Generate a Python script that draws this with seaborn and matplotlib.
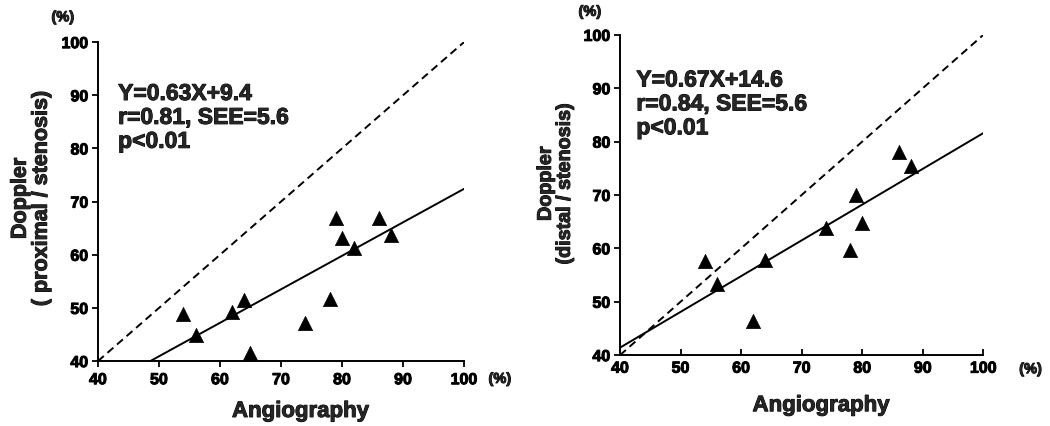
import matplotlib
matplotlib.use("Agg")
import matplotlib.pyplot as plt
import matplotlib.patheffects as pe
import numpy as np
import pandas as pd
import seaborn as sns

sns.set_theme(style="ticks")
plt.rcParams["font.family"] = ["Liberation Sans", "DejaVu Sans"]
plt.rcParams["font.weight"] = "bold"

# Angiography vs Doppler (proximal / stenosis)
prox_angio = [54, 56, 62, 64, 65, 74, 78, 79, 80, 82, 86, 88]
prox_doppler = [48.9, 44.9, 49.2, 51.4, 41.5, 47.1, 51.7, 66.9, 63.1, 61.3, 67.0, 63.8]
prox_slope, prox_icpt = 0.63, 9.4
prox_text = ["Y=0.63X+9.4", "r=0.81, SEE=5.6", "p<0.01"]

# Angiography vs Doppler (distal / stenosis)
dist_angio = [54, 56, 62, 64, 74, 78, 79, 80, 86, 88]
dist_doppler = [57.6, 53.4, 46.3, 57.9, 63.8, 59.7, 70.0, 64.8, 78.1, 75.4]
dist_slope, dist_icpt = 0.67, 14.6
dist_text = ["Y=0.67X+14.6", "r=0.84, SEE=5.6", "p<0.01"]

ticks = [40, 50, 60, 70, 80, 90, 100]

# slight stroke to give the heavy, printed look of the lettering
heavy = [pe.withStroke(linewidth=0.7, foreground="black")]

fig = plt.figure(figsize=(10.5, 4.27), dpi=100)
ax1 = fig.add_axes([0.0933, 0.152, 0.3486, 0.747])
ax2 = fig.add_axes([0.5905, 0.166, 0.3460, 0.750])


def draw_panel(ax, angio, doppler, slope, icpt, text, ylab, ylab_size,
               ylab_y, x_tick_dir, text_pos):
    df = pd.DataFrame({"Angiography": angio, "Doppler": doppler})
    xs = np.array([40.0, 100.0])
    fit = pd.DataFrame({"x": xs, "y": slope * xs + icpt})
    ident = pd.DataFrame({"x": xs, "y": xs})
    sns.lineplot(data=ident, x="x", y="y", ax=ax, color="black",
                 linewidth=1.4, linestyle=(0, (4, 2.5)))
    sns.lineplot(data=fit, x="x", y="y", ax=ax, color="black", linewidth=1.4)
    sns.scatterplot(data=df, x="Angiography", y="Doppler", ax=ax, marker="^",
                    s=105, color="black", edgecolor="black", linewidth=0.5,
                    zorder=5)
    ax.set_xlim(40, 100)
    ax.set_ylim(40, 100)
    ax.set_xticks(ticks)
    ax.set_yticks(ticks)
    ax.set_xticklabels([str(t) for t in ticks], fontsize=11.5,
                       fontweight="bold", path_effects=heavy)
    ax.set_yticklabels([str(t) for t in ticks], fontsize=11.5,
                       fontweight="bold", path_effects=heavy)
    ax.tick_params(axis="x", direction=x_tick_dir, length=4, width=1.3,
                   pad=4, colors="black")
    ax.tick_params(axis="y", direction="out", length=4, width=1.3,
                   pad=3, colors="black")
    for side in ("top", "right"):
        ax.spines[side].set_visible(False)
    for side in ("left", "bottom"):
        ax.spines[side].set_linewidth(1.4)
        ax.spines[side].set_color("black")
    ax.set_xlabel("Angiography", fontsize=16, fontweight="bold", labelpad=10,
                  path_effects=heavy)
    ax.xaxis.set_label_coords(0.553, -0.125)
    ax.set_ylabel(ylab, fontsize=ylab_size, fontweight="bold", labelpad=7,
                  linespacing=1.0, path_effects=heavy)
    ax.yaxis.label.set_y(ylab_y)
    ax.text(text_pos[0], text_pos[1], "\n".join(text), transform=ax.transAxes,
            fontsize=16.5, fontweight="bold", va="top", ha="left",
            linespacing=1.05, path_effects=heavy)


draw_panel(ax1, prox_angio, prox_doppler, prox_slope, prox_icpt, prox_text,
           "Doppler\n( proximal / stenosis)", 15.5, 0.51, "out", (0.055, 0.875))
draw_panel(ax2, dist_angio, dist_doppler, dist_slope, dist_icpt, dist_text,
           "Doppler\n(distal / stenosis)", 14.2, 0.535, "in", (0.045, 0.895))

# unit marks on each axis
unit_marks = [
    (ax1, -0.096, 1.078),
    (ax1, 1.098, -0.056),
    (ax2, -0.083, 1.072),
    (ax2, 1.13, -0.044),
]
for ax, ux, uy in unit_marks:
    ax.text(ux, uy, "(%)", transform=ax.transAxes, fontsize=10.5,
            fontweight="bold", ha="center", va="center", path_effects=heavy)

fig.savefig("out.png", dpi=100, facecolor="white")
